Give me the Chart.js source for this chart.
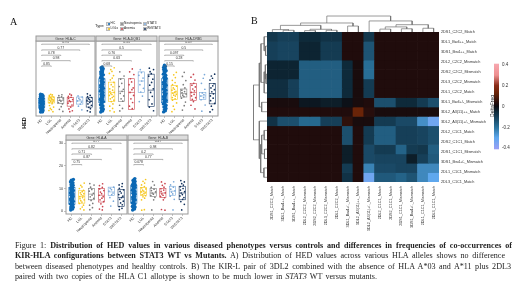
<!DOCTYPE html>
<html>
<head>
<meta charset="utf-8">
<script src="https://cdn.jsdelivr.net/npm/chart.js@4"></script>
<style>
  html, body { margin: 0; padding: 0; background: #fff; }
  #page { position: relative; width: 520px; height: 292px; overflow: hidden; filter: blur(0.3px); }
  canvas, .t { position: absolute; }
  .t { font-family: "Liberation Sans", sans-serif; white-space: nowrap; color: #222; }
  .letter { font-family: "Liberation Serif", serif; font-size: 10px; color: #111; }
  .key { position: absolute; width: 4px; height: 4px; background: #e4e4e4; border: 0.5px solid #bbb; box-sizing: border-box; }
  .cap { position: absolute; left: 15px; font: 8.1px/10px "Liberation Serif", serif; color: #222; white-space: normal; text-align: justify; text-align-last: justify; }
</style>
</head>
<body>
<div id="page">
  <div class="t letter" style="left:10px;top:16px">A</div>
  <div class="t letter" style="left:251px;top:15px">B</div>
  <div class="t" style="left:95px;top:23px;font-size:4px">Type</div>
  <div class="t" style="left:18px;top:120px;font-size:5.5px;font-weight:bold;transform:rotate(-90deg)">HED</div>
  <div class="t" style="left:481px;top:103px;font-size:5px;transform:rotate(-90deg)">DeltaFreq</div>
  <div class="cap" style="top:240.5px;width:497px"><b style="font-weight:normal">Figure 1:</b> <b>Distribution of HED values in various diseased phenotypes versus controls and differences in frequencies of co-occurrences of</b></div>
  <div class="cap" style="top:251px;width:490px"><b>KIR-HLA configurations between STAT3 WT vs Mutants.</b> A) Distribution of HED values across various HLA alleles shows no difference</div>
  <div class="cap" style="top:261.5px;width:496px">between diseased phenotypes and healthy controls. B) The KIR-L pair of 3DL2 combined with the absence of HLA A*03 and A*11 plus 2DL3</div>
  <div class="cap" style="top:272px;width:362px">paired with two copies of the HLA C1 allotype is shown to be much lower in <i>STAT3</i> WT versus mutants.</div>
</div>
<script>
// ── Panel A data ─────────────────────────────────────────
const categories = ["HC", "LGL", "Neutropenia", "Anemia", "STAT3", "WtSTAT3"];
const legendNames = ["HC", "LGLs", "Neutropenia", "Anemia", "STAT3", "WtSTAT3"];
const typeColors = ["#0b68b4", "#f6c71f", "#7c7c7c", "#c9444e", "#7aa9da", "#12315c"];
const hedTicks = [0, 10, 20, 30];

const bracketEnds = [5, 4, 2, 3, 1];
const bracketLevels = [30.1, 27.6, 25.3, 22.9, 20.6];

const pvalsC = ["0.95", "0.77", "0.78", "0.98", "0.85"];
const pvalsDQB1 = ["0.35", "0.5", "0.76", "0.63", "0.68"];
const pvalsDRB1 = ["0.09", "0.5", "0.097", "0.28", "0.15"];
const pvalsA = ["0.77", "0.82", "0.71", "0.87", "0.75"];
const pvalsB = ["0.47", "0.98", "0.2", "0.77", "0.078"];

const hedC = [
  [0.4,0.7,0.9,1.1,1.3,1.5,1.8,2,2.1,2.4,2.6,2.7,3,3.2,3.3,3.6,3.8,4,4.1,4.3,4.6,4.7,4.9,5.1,5.2,5.5,5.6,5.8,6,6.2,6.3,6.6,6.8,7,7.1,7.3,7.5,7.7,8,8.2,0.5,2.9,4.4,5.9,6.9],
  [0.6,1.1,1.5,2,2.6,3.3,4.1,4.5,4.8,5,5.3,5.5,5.8,6,6.2,6.5,6.7,7,7.2,7.4,7.7,8,8.2],
  [0.7,1.6,2.8,4,4.6,5.1,5.6,6.2,6.7,7.1,7.6,8],
  [0.6,1,1.8,2.6,3.5,4.3,5,5.4,5.9,6.4,6.9,7.3,7.8,8.3],
  [1.4,3,3.9,4.8,5.3,5.9,6.4,7,7.5],
  [0.5,1,1.9,2.5,3.4,4,4.6,5.2,5.5,5.9,6.3,6.8,7.2,7.7,8.4]
];
const boxC = [[2.5,4.3,6.3],[4.4,5.7,7],[4.2,5.5,6.8],[3,5,6.8],[3.9,5.3,7],[2.6,5,6.7]];

const hedDQB1 = [
  [0.4,0.9,1.2,1.8,2.2,2.7,3.1,3.6,4.1,4.5,5,5.4,5.9,6.3,6.8,7.2,7.7,8.1,8.6,9,9.5,9.9,10.4,10.8,11.3,11.7,12.2,12.6,13.1,13.5,14,14.4,14.9,15.3,15.8,16.2,16.7,17.1,17.6,18,18.5,18.9,19.4,19.8,20.1,1.5,6,11,16],
  [0.5,1,2,3,4,5,5.6,6.2,6.8,7.3,7.7,8.1,8.5,9,9.4,10,10.6,11.5,12.4,13.4,14.5,15.3,16.4,17.3,18.2,19,19.8],
  [0.9,2,3.4,5.2,6.2,7.5,8.6,9.5,10.4,11.6,13,14.8,16.2,18],
  [1.9,3,4.6,6.2,7.7,9,10.2,11,12.4,13.6,15,16.8,18,19.3],
  [5,7.4,9.2,10.8,12.4,14,15.3,16.5,17.7,19],
  [1,2.6,4,5.8,7.3,9,10.6,12.2,13.4,14.8,16.1,17.2,18.1,19,19.6]
];
const boxDQB1 = [[4.5,10,15],[5,9,13.5],[5,9.5,15],[1.6,9,15],[9,14,18],[2.8,10,17]];

const hedDRB1 = [
  [0.5,1,1.5,2,2.6,3,3.5,4,4.6,5,5.5,6,6.6,7.1,7.6,8,8.5,9,9.6,10,10.5,11,11.6,12.1,12.6,13,13.5,14,14.6,15.1,15.6,16,16.5,17,17.6,18,18.5,19,19.4,19.9,20.4,20.9,3.3,7.3,11.3,15.3],
  [0.6,1.6,3,4.4,5.6,6.2,6.8,7.4,7.8,8.2,8.7,9.1,9.5,10,10.4,11,11.7,12.4,13.3,14.3,15.5,16.7,17.8],
  [1.3,3.2,4.8,6.5,7.2,7.8,8.3,8.9,9.4,10,11,12.4,14.2,16,17.8],
  [1.8,3.4,5,6,6.7,7.5,8.2,9,9.7,10.5,11.4,12.2,13,14.4,15.7,16.9],
  [0.8,3.5,5.8,6.7,7.4,8.1,8.8,10.4,13,15.2,16.8],
  [0.5,1.5,3,4.2,5.4,6.5,7.5,8.4,9.3,10.2,11,11.9,12.8,14.4,15.2,16.2,17]
];
const boxDRB1 = [[4.5,10,15],[6,8.8,12],[7,8.5,10.5],[5.5,9,13],[6,7.5,9],[4,8.5,13]];

const hedA = [
  [0.5,0.9,1.2,1.7,2,2.5,2.8,3.2,3.6,4,4.3,4.7,5.1,5.5,5.8,6.2,6.5,7,7.3,7.7,8,8.4,8.8,9.1,9.5,9.9,10.2,10.6,11,11.4,11.7,12.1,12.5,12.9,13.3,13.7,14,1.4,3.4,5.3,7.5,9.3],
  [0.5,1,1.8,2.6,3.4,4,4.6,5,5.5,6,6.4,6.8,7.3,7.7,8.1,8.6,9.2,10,10.7,11.4,12.4],
  [0.6,1.5,2.6,3.4,4.7,5.6,6.3,7.1,7.9,8.8,9.6,10.6,11.5,12.2],
  [0.5,0.9,2,3.2,4.2,5,5.7,6.4,7,7.7,8.4,9.1,9.8,10.5,11.3,12.1],
  [2.2,4.4,6,7.3,8,8.8,9.5,10.1,10.6],
  [0.6,1.2,2,2.8,3.6,4.4,5.2,6,6.6,7.3,8,8.7,9.4,10.1,10.9,11.6,12.2]
];
const boxA = [[3,7,10.5],[3.5,6.5,9],[5,7.5,10],[4,7,10],[7,8.5,10.6],[2,6,9.5]];

const hedB = [
  [0.5,0.9,1.4,1.8,2.3,2.7,3.2,3.6,4,4.5,4.9,5.3,5.8,6.2,6.6,7.1,7.5,7.9,8.4,8.8,9.2,9.7,10.1,10.5,11,11.4,11.8,12.3,12.7,13.1,13.6,14,14.4,2,6,9,11.6],
  [0.4,0.6,5,5.7,6.3,6.8,7.3,7.7,8.1,8.5,8.9,9.3,9.8,10.3,10.9,11.6,12.4,13.2,14],
  [0.5,5,6.1,6.9,7.5,8,8.5,9.1,9.7,10.5,11.5,13.1],
  [0.4,0.7,5,5.9,6.5,7,7.6,8.1,8.7,9.3,9.9,10.6,11.4,12.2,12.9],
  [0.5,5.2,6.6,7.6,8.4,9,9.7,10.6,11.6,13],
  [0.5,3,4.2,5.2,6,6.7,7.3,8,8.6,9.3,10,10.8,11.5,12.2,12.9,13.5]
];
const boxB = [[3.5,8,11.5],[7,8.5,10.5],[6.5,8,10],[6,8,10],[7,8.8,11],[5,8,11]];

const jitterCycle = [-0.2, 0.12, -0.05, 0.22, -0.14, 0.05, 0.18, -0.24, 0.02, -0.1, 0.25, -0.18, 0.09];

// ── Panel B data ─────────────────────────────────────────
const comboLabels = [
  "2DS1_C2C2_Match", "3DL1_Bw4++_Match", "3DS1_Bw4++_Match", "2DL2_C2C2_Mismatch",
  "2DS2_C2C2_Mismatch", "2DL3_C2C2_Mismatch", "2DL1_C2C2_Match", "3DL1_Bw4+/-_Mismatch",
  "3DL2_A3(11)++_Match", "3DL2_A3(11)+/-_Mismatch", "2DL2_C1C1_Match", "2DS2_C1C1_Match",
  "2DS1_C1C1_Mismatch", "3DS1_Bw4+/-_Mismatch", "2DL1_C1C1_Mismatch", "2DL3_C1C1_Match"
];

const deltaFreq = [
  [-.08,-.1,-.1,-.05,-.05,-.07,-.07,.03,.03,-.08,.03,.03,.03,.03,.03,.03],
  [-.1,-.11,-.11,-.04,-.04,-.09,-.09,.03,.03,-.14,.03,.03,.03,.03,.03,.03],
  [-.1,-.11,-.11,-.04,-.04,-.09,-.09,.03,.03,-.14,.03,.03,.03,.03,.03,.03],
  [-.04,-.04,-.04,-.16,-.16,-.16,-.16,-.05,.02,-.19,.03,.03,.03,.03,.03,.03],
  [-.04,-.04,-.04,-.16,-.16,-.16,-.16,-.05,.02,-.19,.03,.03,.03,.03,.03,.03],
  [-.06,-.06,-.1,-.16,-.16,-.16,-.16,-.05,.02,-.09,.03,.03,.03,.03,.03,.03],
  [-.06,-.06,-.1,-.16,-.16,-.16,-.16,-.05,.02,-.09,.03,.03,.03,.03,.03,.03],
  [.02,.02,.02,-.02,-.02,-.03,-.03,-.01,.02,.03,-.13,-.13,-.05,-.05,-.09,-.13],
  [.03,.03,.03,.03,.03,.03,.03,.03,.13,.04,.02,.02,.02,.02,.02,.02],
  [-.07,-.13,-.13,-.18,-.18,-.1,-.1,.05,.02,.02,-.09,-.09,-.12,-.12,-.25,-.33],
  [.03,.03,.03,.03,.03,.03,.03,-.13,.03,-.09,-.16,-.16,-.1,-.1,-.11,-.13],
  [.03,.03,.03,.03,.03,.03,.03,-.13,.03,-.09,-.16,-.16,-.1,-.1,-.11,-.13],
  [.03,.03,.03,.03,.03,.03,.03,-.03,.03,-.12,-.09,-.09,-.17,-.09,-.08,-.16],
  [.03,.03,.03,.03,.03,.03,.03,-.03,.03,-.12,-.11,-.11,-.11,-.03,-.1,-.15],
  [.03,.03,.03,.03,.03,.03,.03,-.09,.03,-.23,-.12,-.12,-.11,-.11,-.24,-.24],
  [.03,.03,.03,.03,.03,.03,.03,-.07,.03,-.33,-.15,-.15,-.17,-.14,-.24,-.3]
];

// dendrograms: [merge height, child, child], leaves are column / row numbers
const columnTree = [.94,
  [.53, [.39, [.14, 0, [.1, 1, 2]], [.16, [.08, 3, 4], [.1, 5, 6]]], [.35, 7, 8]],
  [.65, 9, [.43, [.3, [.17, 10, 11], [.19, 12, 13]], [.22, 14, 15]]]];
const rowTree = [.98,
  [.55, [.43, [.2, 0, [.1, 1, 2]], [.2, [.12, 3, [.07, 4, 5]], 6]], [.38, 7, 8]],
  [.55, 9, [.45, [.38, [.2, 10, 11], [.18, 12, 13]], [.22, 14, 15]]]];

const colorbarTicks = [-0.4, -0.2, 0, 0.2, 0.4];
const colorStops = [
  [-0.41, "#9c9ff5"], [-0.3, "#5fa8ee"], [-0.2, "#2a739d"], [-0.1, "#163f58"], [-0.05, "#0e2a3a"],
  [0, "#0b0b10"], [0.03, "#200c0c"], [0.13, "#6a2408"], [0.2, "#8a2c18"], [0.3, "#ee8f90"], [0.41, "#f7a8b0"]
];

const FONT = "Liberation Sans";
const page = document.getElementById("page");

function addCanvas(left, top, w, h) {
  const c = document.createElement("canvas");
  c.width = w;
  c.height = h;
  c.style.left = left + "px";
  c.style.top = top + "px";
  c.style.width = w + "px";
  c.style.height = h + "px";
  page.appendChild(c);
  return c;
}

// hex colour for a heatmap value
function colorFor(v) {
  for (let i = 1; i < colorStops.length; i++) {
    if (v <= colorStops[i][0]) {
      const [a, ca] = colorStops[i - 1];
      const [b, cb] = colorStops[i];
      const t = (v - a) / (b - a);
      const mix = [1, 3, 5].map(k => {
        const p = parseInt(ca.substr(k, 2), 16), q = parseInt(cb.substr(k, 2), 16);
        return Math.round(p + (q - p) * t);
      });
      return `rgb(${mix.join(",")})`;
    }
  }
  return colorStops[colorStops.length - 1][1];
}

// ── Legend ───────────────────────────────────────────────
const legendCols = [106, 119.5, 142.5];
legendNames.forEach((name, i) => {
  const col = legendCols[Math.floor(i / 2)], y = i % 2 ? 26.5 : 21.5;
  const key = document.createElement("div");
  key.className = "key";
  key.style.left = col + "px";
  key.style.top = y + "px";
  const dot = document.createElement("div");
  dot.style.cssText = `position:absolute;left:0.7px;top:0.7px;width:2px;height:2px;border-radius:1px;background:${typeColors[i]}`;
  key.appendChild(dot);
  page.appendChild(key);
  const label = document.createElement("div");
  label.className = "t";
  label.textContent = name;
  label.style.cssText = `left:${col + 4.6}px;top:${y - 0.2}px;font-size:3.2px`;
  page.appendChild(label);
});

// ── Box plot panels ──────────────────────────────────────
const panelDecor = {
  id: "panelDecor",
  afterDatasetsDraw(chart, args, opts) {
    const { ctx, chartArea: a, scales: { x, y } } = chart;
    ctx.save();
    // boxes
    opts.boxes.forEach((b, i) => {
      const cx = x.getPixelForValue(i), hw = 3.1;
      ctx.strokeStyle = typeColors[i];
      ctx.lineWidth = 0.6;
      ctx.strokeRect(cx - hw, y.getPixelForValue(b[2]), hw * 2, y.getPixelForValue(b[0]) - y.getPixelForValue(b[2]));
      ctx.beginPath();
      ctx.moveTo(cx - hw, y.getPixelForValue(b[1]));
      ctx.lineTo(cx + hw, y.getPixelForValue(b[1]));
      ctx.stroke();
    });
    // significance brackets
    ctx.font = `3.4px "${FONT}"`;
    ctx.textAlign = "center";
    ctx.textBaseline = "bottom";
    bracketEnds.forEach((end, i) => {
      const x0 = x.getPixelForValue(0), x1 = x.getPixelForValue(end), py = y.getPixelForValue(bracketLevels[i]);
      ctx.strokeStyle = "#666";
      ctx.lineWidth = 0.5;
      ctx.beginPath();
      ctx.moveTo(x0, py + 0.8);
      ctx.lineTo(x0, py);
      ctx.lineTo(x1, py);
      ctx.lineTo(x1, py + 0.8);
      ctx.stroke();
      ctx.fillStyle = "#333";
      ctx.fillText(opts.pvals[i], (x0 + x1) / 2, py - 0.5);
    });
    // panel frame and strip
    ctx.strokeStyle = "#9a9a9a";
    ctx.lineWidth = 1;
    ctx.strokeRect(a.left, a.top, a.right - a.left, a.bottom - a.top);
    ctx.fillStyle = "#dcdcdc";
    ctx.fillRect(a.left, a.top - 5, a.right - a.left, 5);
    ctx.strokeRect(a.left, a.top - 5, a.right - a.left, 5);
    ctx.fillStyle = "#333";
    ctx.textBaseline = "middle";
    ctx.fillText(opts.title, (a.left + a.right) / 2, a.top - 2.4);
    ctx.restore();
  }
};

function drawPanel(left, top, w, h, title, values, boxes, pvals, showY) {
  const pad = 10;
  const c = addCanvas(left - pad, top - 6, w + pad + 4, h + 6 + 27);
  let k = 0;
  new Chart(c, {
    type: "scatter",
    data: {
      datasets: values.map((list, i) => ({
        data: list.map(v => ({ x: i + jitterCycle[k++ % jitterCycle.length] * (i === 0 ? 0.6 : 1), y: v })),
        backgroundColor: typeColors[i],
        borderColor: typeColors[i],
        pointRadius: i === 0 ? 1.7 : 0.85,
        borderWidth: 0
      }))
    },
    options: {
      responsive: false,
      animation: false,
      layout: { padding: { top: 6, right: 4, left: 0, bottom: 0 } },
      plugins: {
        legend: { display: false },
        tooltip: { enabled: false },
        panelDecor: { title, boxes, pvals }
      },
      scales: {
        x: {
          type: "linear",
          min: -0.6,
          max: 5.6,
          afterBuildTicks: s => { s.ticks = categories.map((_, i) => ({ value: i })); },
          afterFit: s => { s.height = 27; },
          border: { display: false },
          grid: { drawOnChartArea: false, tickLength: 2, color: "#888", lineWidth: 0.5 },
          ticks: {
            autoSkip: false, minRotation: 45, maxRotation: 45, padding: 0,
            color: "#333", font: { family: FONT, size: 3.7 },
            callback: v => categories[v]
          }
        },
        y: {
          min: -1.3,
          max: 31.5,
          afterBuildTicks: s => { s.ticks = hedTicks.map(value => ({ value })); },
          afterFit: s => { s.width = pad; },
          border: { display: false },
          grid: { display: showY, drawOnChartArea: false, tickLength: 2, color: "#888", lineWidth: 0.5 },
          ticks: { display: showY, padding: 1, color: "#333", font: { family: FONT, size: 3.7 } }
        }
      }
    },
    plugins: [panelDecor]
  });
}

drawPanel(36, 41, 59, 75, "Gene: HLA-C", hedC, boxC, pvalsC, false);
drawPanel(96, 41, 61, 75, "Gene: HLA-DQB1", hedDQB1, boxDQB1, pvalsDQB1, false);
drawPanel(159, 41, 59, 75, "Gene: HLA-DRB1", hedDRB1, boxDRB1, pvalsDRB1, false);
drawPanel(66, 140, 61, 74, "Gene: HLA-A", hedA, boxA, pvalsA, true);
drawPanel(128, 140, 60, 74, "Gene: HLA-B", hedB, boxB, pvalsB, false);

// ── Heatmap (stacked bars, one dataset per row) ──────────
const heatCanvas = addCanvas(250, 0, 270, 240);
new Chart(heatCanvas, {
  type: "bar",
  data: {
    labels: comboLabels,
    datasets: deltaFreq.map(row => ({
      data: row.map(() => 1),
      backgroundColor: row.map(colorFor),
      barPercentage: 1,
      categoryPercentage: 1,
      borderWidth: 0
    }))
  },
  options: {
    responsive: false,
    animation: false,
    layout: { padding: { left: 17, top: 32, right: 0, bottom: 0 } },
    plugins: { legend: { display: false }, tooltip: { enabled: false } },
    scales: {
      x: {
        stacked: true,
        afterFit: s => { s.height = 58; },
        border: { display: false },
        grid: { display: false, drawTicks: false },
        ticks: { autoSkip: false, minRotation: 90, maxRotation: 90, padding: 4, color: "#333", font: { family: FONT, size: 3.8 } }
      },
      y: { stacked: true, reverse: true, min: 0, max: 16, display: false },
      rowNames: {
        type: "category",
        labels: comboLabels,
        position: "right",
        afterFit: s => { s.width = 81; },
        border: { display: false },
        grid: { display: false, drawTicks: false },
        ticks: { autoSkip: false, padding: 2, color: "#333", font: { family: FONT, size: 3.8 } }
      }
    }
  }
});

// ── Dendrograms ──────────────────────────────────────────
function treeLines(tree, flip) {
  const sets = [];
  const pt = (pos, h) => flip ? { x: h, y: pos } : { x: pos, y: h };
  const walk = node => {
    if (typeof node === "number") return { pos: node + 0.5, h: 0 };
    const a = walk(node[1]), b = walk(node[2]);
    sets.push({
      data: [pt(a.pos, a.h), pt(a.pos, node[0]), pt(b.pos, node[0]), pt(b.pos, b.h)],
      showLine: true, pointRadius: 0, borderWidth: 0.7, borderColor: "#6e6e6e", clip: false
    });
    return { pos: (a.pos + b.pos) / 2, h: node[0] };
  };
  walk(tree);
  return sets;
}

const hiddenScale = (min, max, reverse) => ({ type: "linear", display: false, min, max, reverse });

new Chart(addCanvas(267, 15, 172, 17), {
  type: "scatter",
  data: { datasets: treeLines(columnTree, false) },
  options: {
    responsive: false, animation: false,
    plugins: { legend: { display: false }, tooltip: { enabled: false } },
    scales: { x: hiddenScale(0, 16, false), y: hiddenScale(0, 1, false) }
  }
});

new Chart(addCanvas(253, 32, 14, 150), {
  type: "scatter",
  data: { datasets: treeLines(rowTree, true) },
  options: {
    responsive: false, animation: false,
    plugins: { legend: { display: false }, tooltip: { enabled: false } },
    scales: { x: hiddenScale(0, 1, true), y: hiddenScale(0, 16, true) }
  }
});

// ── Colour bar ───────────────────────────────────────────
const barFill = {
  id: "barFill",
  beforeDatasetsDraw(chart) {
    const { ctx, chartArea: a, scales: { y } } = chart;
    const g = ctx.createLinearGradient(0, y.getPixelForValue(0.41), 0, y.getPixelForValue(-0.41));
    colorStops.slice().reverse().forEach(([v, col]) => g.addColorStop((0.41 - v) / 0.82, col));
    ctx.fillStyle = g;
    ctx.fillRect(a.left, a.top, a.right - a.left, a.bottom - a.top);
  }
};

new Chart(addCanvas(494, 58, 26, 97), {
  type: "bar",
  data: { labels: ["DeltaFreq"], datasets: [{ data: [], backgroundColor: "transparent" }] },
  options: {
    responsive: false, animation: false,
    layout: { padding: { top: 4, bottom: 4, left: 0, right: 0 } },
    plugins: { legend: { display: false }, tooltip: { enabled: false } },
    scales: {
      x: { display: false },
      y: {
        position: "right",
        min: -0.41,
        max: 0.41,
        afterBuildTicks: s => { s.ticks = colorbarTicks.map(value => ({ value })); },
        afterFit: s => { s.width = 21; },
        border: { display: false },
        grid: { display: false, drawTicks: false },
        ticks: { padding: 3, color: "#333", font: { family: FONT, size: 4.5 } }
      }
    }
  },
  plugins: [barFill]
});
</script>
</body>
</html>
